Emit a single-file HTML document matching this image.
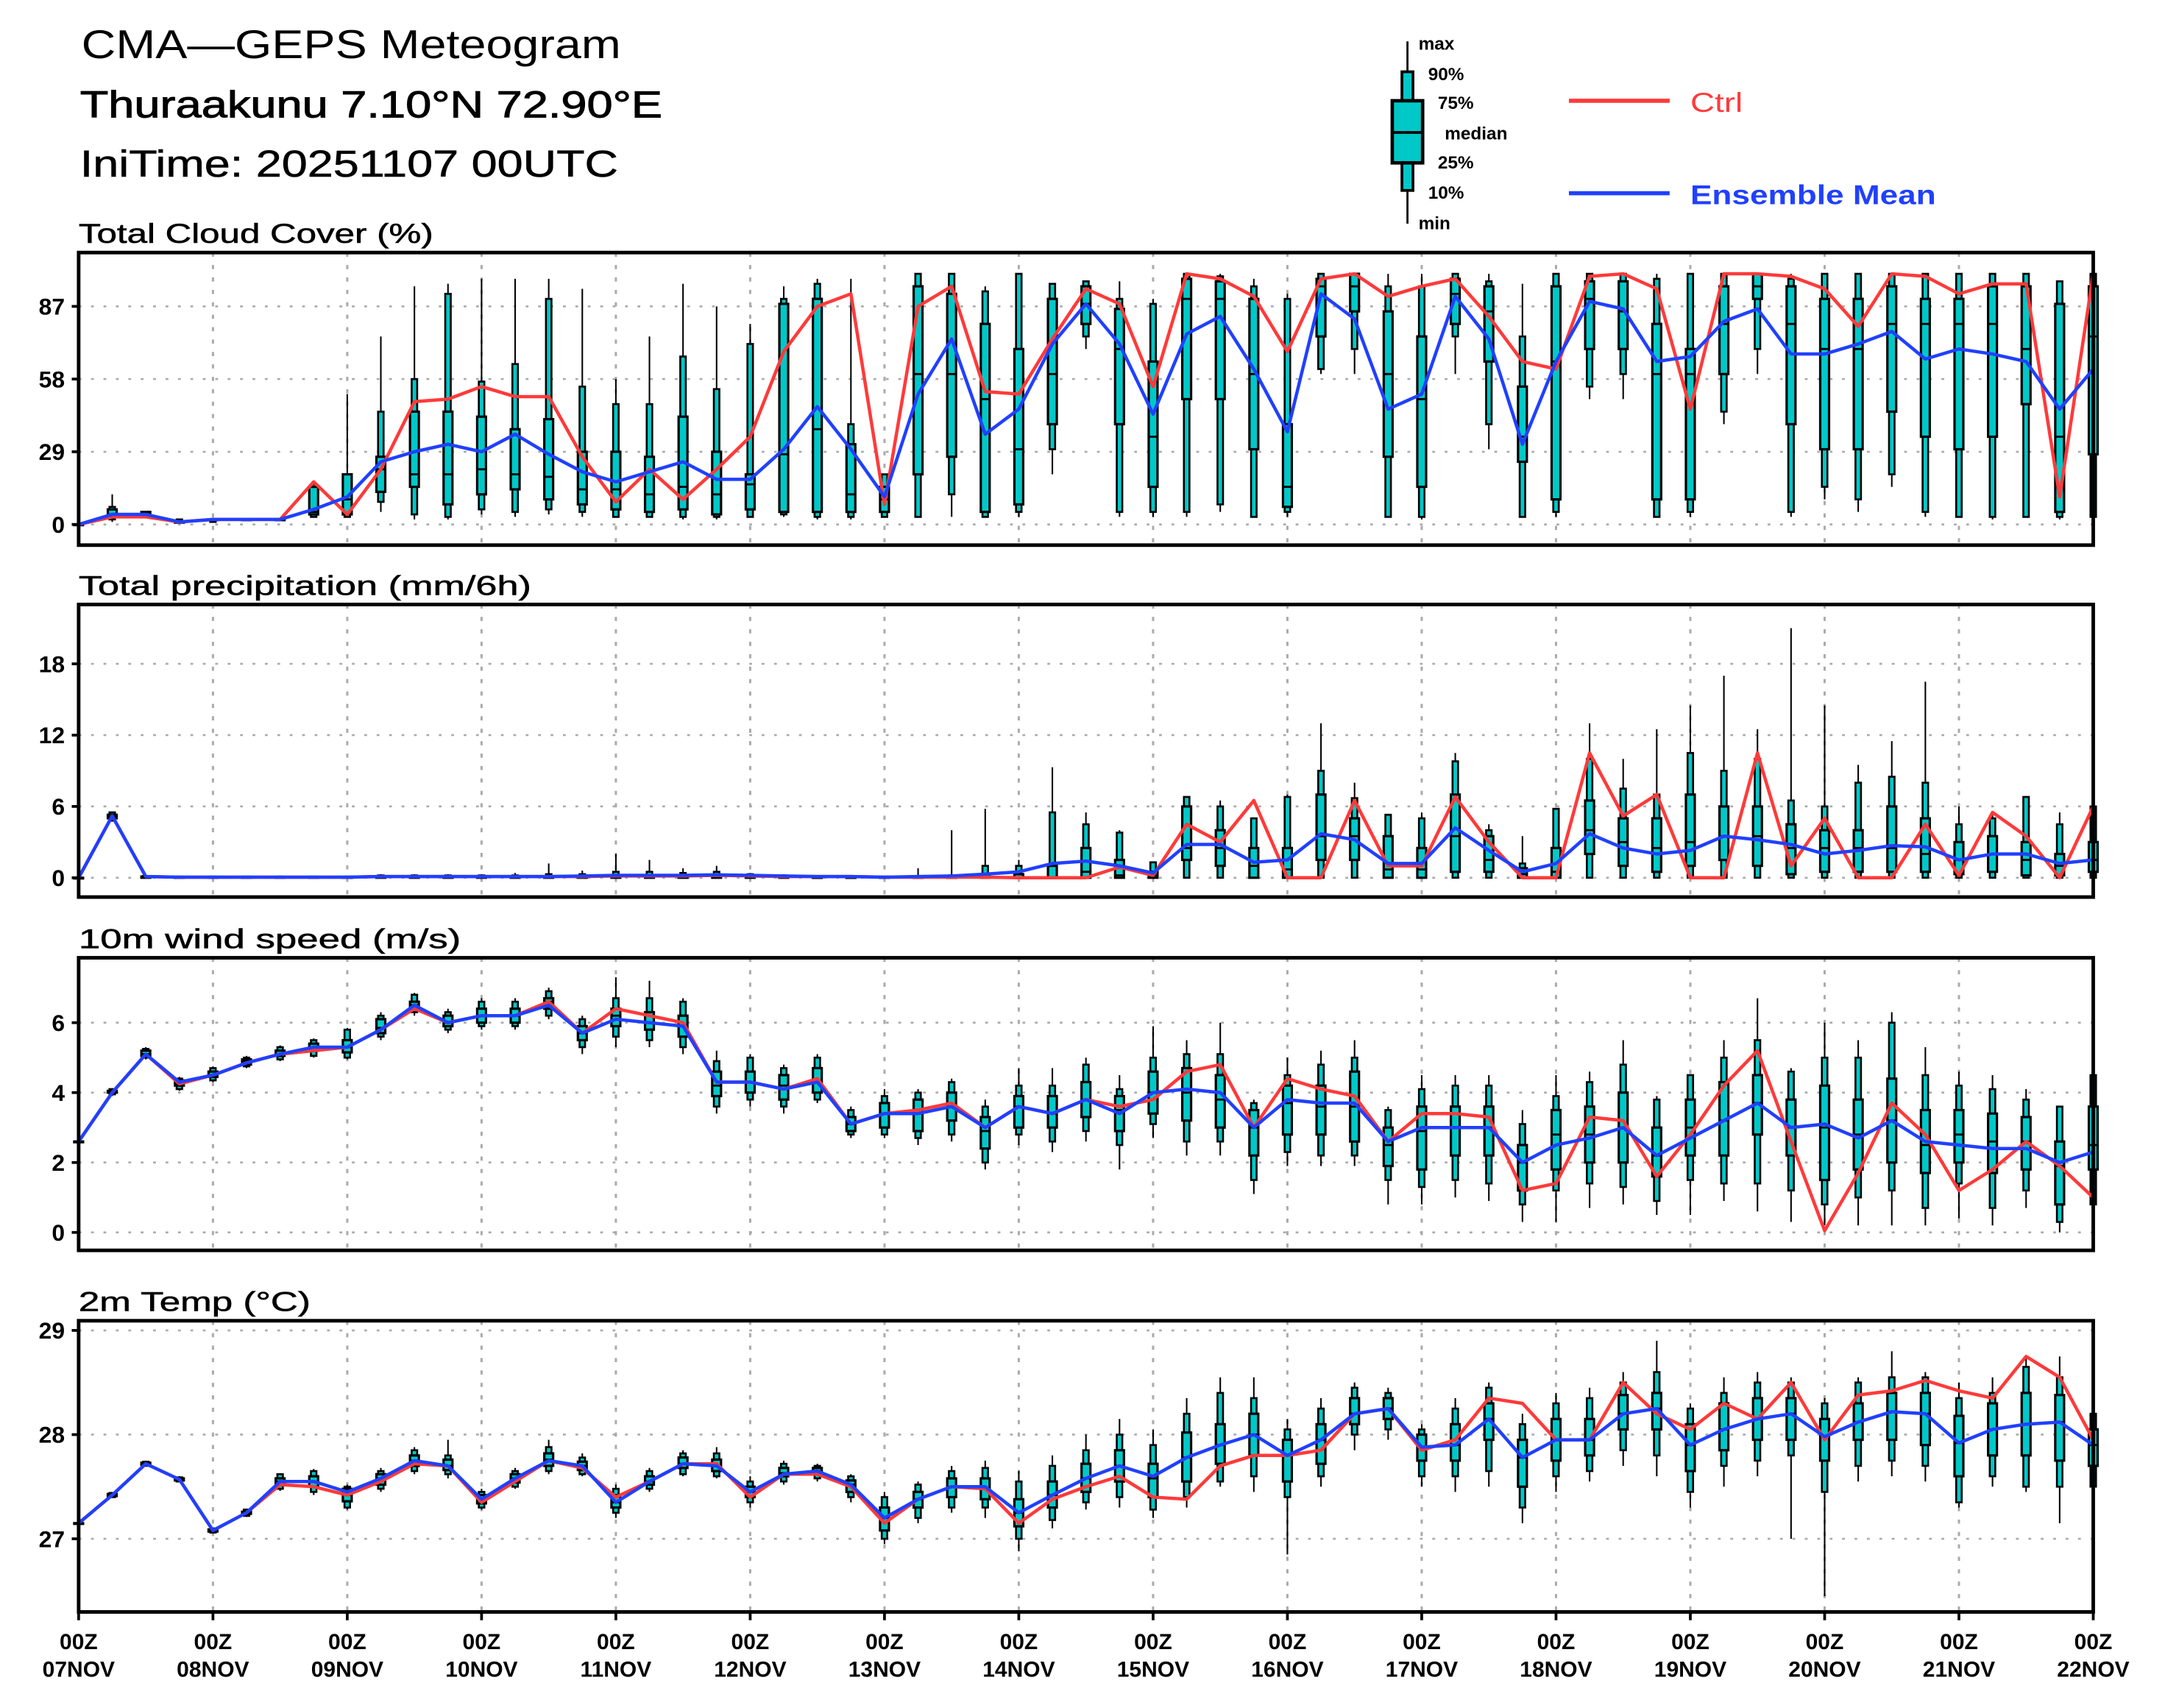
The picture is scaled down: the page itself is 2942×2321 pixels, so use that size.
<!DOCTYPE html>
<html><head><meta charset="utf-8">
<style>
html,body{margin:0;padding:0;background:#fff;}
svg{display:block;}
text{font-family:"Liberation Sans",sans-serif;}
</style></head>
<body>
<svg id="chart" xmlns="http://www.w3.org/2000/svg" width="2942" height="2321" viewBox="0 0 1569 1237.6" preserveAspectRatio="none">
<rect x="0" y="0" width="1569" height="1238" fill="#fff"/>
<g>
<text x="59" y="42" font-size="29" fill="#000" textLength="391" lengthAdjust="spacingAndGlyphs">CMA—GEPS Meteogram</text>
<text x="58" y="85" font-size="27" fill="#000" stroke="#000" stroke-width="0.5" textLength="422" lengthAdjust="spacingAndGlyphs">Thuraakunu 7.10°N 72.90°E</text>
<text x="58" y="128" font-size="27" fill="#000" stroke="#000" stroke-width="0.3" textLength="390" lengthAdjust="spacingAndGlyphs">IniTime: 20251107 00UTC</text>
</g>
<g>
<line x1="1020" y1="30" x2="1020" y2="162" stroke="#000" stroke-width="1.5"/>
<rect x="1016" y="52" width="8" height="86" fill="#00c8c8" stroke="#000" stroke-width="2"/>
<rect x="1009" y="73" width="22" height="45" fill="#00c8c8" stroke="#000" stroke-width="2.5"/>
<line x1="1009" y1="96" x2="1031" y2="96" stroke="#000" stroke-width="2"/>
<g font-size="13" font-weight="bold" fill="#000">
<text x="1028" y="36">max</text><text x="1035" y="58">90%</text><text x="1042" y="79">75%</text>
<text x="1047" y="101">median</text><text x="1042" y="122">25%</text><text x="1035" y="144">10%</text><text x="1028" y="166">min</text>
</g>
<line x1="1137" y1="73" x2="1210" y2="73" stroke="#ff3a3a" stroke-width="3"/>
<text x="1225" y="81" font-size="20" fill="#ff3a3a" textLength="38" lengthAdjust="spacingAndGlyphs">Ctrl</text>
<line x1="1137" y1="140" x2="1210" y2="140" stroke="#2040ff" stroke-width="3"/>
<text x="1225" y="148" font-size="20" font-weight="bold" fill="#2040ff" textLength="178" lengthAdjust="spacingAndGlyphs">Ensemble Mean</text>
</g>
</svg>
<script>
const categories=["07NOV","08NOV","09NOV","10NOV","11NOV","12NOV","13NOV","14NOV","15NOV","16NOV","17NOV","18NOV","19NOV","20NOV","21NOV","22NOV"];
const cloudTicks=[0,29,58,87];
const precipTicks=[0,6,12,18];
const windTicks=[0,2,4,6];
const tempTicks=[27,28,29];
const cloudCtrl=[0,3,3,1,2,2,2,17,4,22,49,50,55,51,51,27,9,22,10,22,35,69,87,92,8,87,95,53,52,74,94,88,55,100,98,91,69,98,100,91,95,98,83,65,62,99,100,94,46,100,100,99,94,79,100,99,92,96,96,11,100];
const cloudMean=[0,4,4,1,2,2,2,6,11,25,29,32,29,36,28,21,17,21,25,18,18,30,47,30,11,52,74,36,46,72,88,72,44,76,83,62,37,92,82,46,52,91,74,32,65,89,86,65,67,81,86,68,68,72,77,66,70,68,65,46,62];
const cloudBoxes=[[0,0,0,0,0,0,0],[2,3,4,6,7,1,12],[3,3,4,5,5,3,5],[1,1,1,1,2,1,2],[1,2,2,2,2,1,2],[2,2,2,2,2,2,2],[2,2,2,2,2,2,2],[3,4,5,15,16,3,16],[3,4,10,20,20,3,52],[9,13,22,27,45,5,75],[4,15,20,45,58,2,95],[3,8,20,45,92,2,96],[6,12,22,43,57,4,98],[5,14,20,38,64,3,98],[6,10,19,42,90,4,98],[5,8,14,29,55,3,94],[3,6,14,29,48,3,58],[3,5,12,27,48,3,75],[3,6,15,43,67,2,96],[3,4,12,29,54,2,87],[3,6,16,20,72,3,80],[4,5,28,88,90,3,95],[3,5,38,90,96,2,98],[3,5,12,32,40,2,98],[3,5,10,15,20,3,20],[3,20,60,95,100,3,100],[12,27,60,92,100,3,100],[3,5,50,80,93,3,95],[5,8,30,70,100,3,100],[30,40,60,90,96,20,96],[75,80,88,95,97,70,97],[5,40,70,86,90,3,97],[5,15,35,65,88,3,90],[5,50,90,98,100,3,100],[8,50,90,97,99,5,100],[3,30,60,90,95,3,98],[5,7,15,40,90,3,92],[62,75,95,98,100,60,100],[70,85,95,100,100,60,100],[3,27,60,85,95,3,100],[3,15,50,75,95,2,100],[75,80,92,98,100,60,100],[40,65,85,95,97,30,100],[3,25,35,55,75,3,96],[5,10,65,95,100,3,100],[55,70,90,97,100,50,100],[60,70,85,97,100,50,100],[3,10,60,80,98,3,100],[5,10,60,70,100,3,100],[45,60,80,95,100,40,100],[70,90,95,100,100,60,100],[5,40,80,95,98,3,100],[15,30,70,90,100,10,100],[10,30,70,90,100,5,100],[20,45,80,95,100,15,100],[5,35,80,90,100,3,100],[3,30,80,90,100,3,100],[3,35,80,95,100,2,100],[3,48,70,95,100,3,100],[3,5,35,88,97,2,97],[3,28,75,95,100,2,100]];
const precipCtrl=[0,5.2,0.1,0.05,0.05,0.05,0.05,0.05,0.05,0.1,0.1,0.1,0.1,0.1,0.1,0.1,0.15,0.15,0.15,0.2,0.15,0.1,0.1,0.1,0.05,0.05,0.05,0.05,0,0,0,0.9,0.2,4.5,3.0,6.5,0,0,6.5,1.0,1.0,6.8,3.0,0,0,10.5,5.2,7.0,0,0,10.5,1.0,5.0,0,0,4.5,0.2,5.5,3.5,0,6.0];
const precipMean=[0,5.2,0.1,0.05,0.05,0.05,0.05,0.05,0.05,0.1,0.1,0.1,0.1,0.1,0.1,0.15,0.2,0.2,0.2,0.25,0.2,0.15,0.1,0.1,0.05,0.1,0.15,0.3,0.5,1.2,1.4,1.0,0.4,2.8,2.8,1.3,1.5,3.7,3.2,1.2,1.2,4.2,2.3,0.5,1.2,3.7,2.5,2.0,2.3,3.5,3.2,2.8,2.0,2.3,2.7,2.6,1.5,2.0,2.0,1.2,1.5];
const precipBoxes=[[0,0,0,0,0,0,0],[4.8,5,5.1,5.3,5.5,4.8,5.5],[0,0,0.05,0.1,0.15,0,0.2],[0,0,0,0.05,0.1,0,0.1],[0,0,0,0.05,0.1,0,0.1],[0,0,0,0.05,0.1,0,0.1],[0,0,0,0.05,0.1,0,0.1],[0,0,0,0.05,0.1,0,0.15],[0,0,0,0.05,0.1,0,0.15],[0,0,0.05,0.1,0.2,0,0.3],[0,0,0.05,0.1,0.2,0,0.3],[0,0,0.05,0.1,0.2,0,0.3],[0,0,0.05,0.1,0.2,0,0.3],[0,0,0.05,0.1,0.2,0,0.4],[0,0,0.05,0.1,0.3,0,1.2],[0,0,0.05,0.15,0.3,0,0.6],[0,0,0.05,0.2,0.5,0,2.0],[0,0,0.05,0.2,0.5,0,1.5],[0,0,0.05,0.2,0.4,0,0.8],[0,0,0.05,0.2,0.5,0,1.0],[0,0,0.05,0.15,0.3,0,0.4],[0,0,0.05,0.1,0.2,0,0.3],[0,0,0,0.05,0.1,0,0.2],[0,0,0,0.05,0.1,0,0.2],[0,0,0,0.05,0.1,0,0.1],[0,0,0,0.05,0.1,0,0.8],[0,0,0,0.05,0.2,0,4.0],[0,0,0,0.3,1.0,0,5.8],[0,0,0,0.3,1.0,0,1.5],[0,0,0,1,5.5,0,9.3],[0,0,0.5,2.5,4.5,0,5.5],[0,0,0.2,1.5,3.8,0,4],[0,0,0.2,0.5,1.3,0,1.3],[0,1.5,2.5,6,6.8,0,6.8],[0,1,2.5,4,6,0,6.5],[0,0,1,2.5,5,0,5],[0,0,0.7,2.5,6.8,0,7],[0,1.5,3.5,7,9,0,13],[0,1.5,3.5,5,6.7,0,8],[0,0,0.7,3.5,5.3,0,5.3],[0,0,0.7,2.5,5,0,5.5],[0,0.5,3.5,7,9.8,0,10.5],[0,0.5,1.5,3.5,4,0,4.5],[0,0,0.3,0.8,1.2,0,3.5],[0,0,0.5,2.5,5.8,0,5.8],[0,2,4,6.5,10,0,13],[0,1,3,5,7.5,0,10],[0,0.5,2.5,5,7,0,12.5],[0,1,3,7,10.5,0,14.5],[0,1.5,3.5,6,9,0,17],[0,1,3.5,6,10,0,12.5],[0,0.3,2.5,4.5,6.5,0,21],[0,0.5,2.5,4,6,0,14.5],[0,0.5,2.5,4,8,0,9.5],[0,0.5,2.5,6,8.5,0,11.5],[0,0.5,2,5,8,0,16.5],[0,0.3,1.5,3,4.5,0,6],[0,0.5,2,3.5,5,0,5.5],[0,0.2,1.5,3,6.8,0,6.8],[0,0.2,1,2,4.5,0,5.5],[0,0.5,1.5,3,6,0,6]];
const windCtrl=[2.6,4.0,5.1,4.25,4.5,4.85,5.1,5.2,5.3,5.8,6.4,6.0,6.2,6.2,6.6,5.7,6.4,6.2,6.0,4.3,4.3,4.1,4.4,3.1,3.4,3.5,3.7,3.0,3.6,3.4,3.8,3.6,3.8,4.6,4.8,3.0,4.4,4.1,3.9,2.6,3.4,3.4,3.3,1.2,1.4,3.3,3.2,1.6,2.8,4.2,5.2,2.6,0.05,1.7,3.7,2.8,1.2,1.8,2.6,1.9,1.0];
const windMean=[2.6,4.0,5.1,4.3,4.5,4.85,5.1,5.3,5.3,5.8,6.5,6.0,6.2,6.2,6.5,5.7,6.1,6.0,5.9,4.3,4.3,4.1,4.3,3.1,3.4,3.4,3.6,3.0,3.6,3.4,3.8,3.4,4.0,4.1,4.0,3.0,3.8,3.7,3.7,2.6,3.0,3.0,3.0,2.0,2.5,2.7,3.0,2.2,2.7,3.2,3.7,3.0,3.1,2.7,3.2,2.6,2.5,2.4,2.4,2.0,2.3];
const windBoxes=[[2.6,2.6,2.6,2.6,2.6,2.6,2.6],[3.95,4,4,4.05,4.1,3.9,4.1],[5.0,5.05,5.1,5.2,5.25,4.95,5.3],[4.1,4.2,4.25,4.35,4.4,4.05,4.45],[4.35,4.45,4.5,4.6,4.7,4.3,4.75],[4.75,4.8,4.9,4.95,5.0,4.7,5.05],[4.95,5.05,5.1,5.2,5.3,4.9,5.35],[5.05,5.2,5.3,5.4,5.5,5.0,5.55],[5.0,5.15,5.3,5.5,5.8,4.95,5.85],[5.6,5.7,5.85,6.1,6.2,5.5,6.3],[6.3,6.4,6.5,6.6,6.8,6.2,6.85],[5.8,5.9,6.0,6.2,6.3,5.7,6.4],[5.9,6.0,6.2,6.4,6.6,5.8,6.7],[5.9,6.0,6.2,6.4,6.6,5.8,6.7],[6.2,6.4,6.6,6.7,6.9,6.1,7.0],[5.3,5.5,5.7,5.9,6.1,5.1,6.2],[5.6,5.9,6.2,6.4,6.7,5.3,7.3],[5.5,5.8,6.0,6.3,6.7,5.3,7.2],[5.3,5.6,5.9,6.2,6.6,5.1,6.7],[3.6,3.9,4.2,4.6,4.9,3.4,5.2],[3.8,4.0,4.3,4.6,5.0,3.6,5.1],[3.6,3.8,4.2,4.5,4.7,3.4,4.8],[3.8,4.0,4.3,4.7,5.0,3.7,5.1],[2.8,2.9,3.1,3.3,3.5,2.7,3.6],[2.8,3.0,3.4,3.7,3.9,2.7,4.1],[2.7,2.9,3.4,3.8,4.0,2.5,4.1],[2.8,3.2,3.6,4.0,4.3,2.6,4.4],[2.0,2.4,2.9,3.3,3.6,1.8,3.8],[2.8,3.0,3.6,3.9,4.2,2.5,4.7],[2.6,3.0,3.4,3.9,4.2,2.3,4.7],[2.9,3.3,3.8,4.3,4.8,2.6,5.0],[2.5,2.9,3.5,3.9,4.1,1.8,4.5],[3.1,3.4,4.0,4.6,5.0,2.7,5.9],[2.6,3.2,4.0,4.7,5.1,2.2,5.5],[2.6,3.0,3.8,4.5,5.1,2.2,6.0],[1.5,2.2,3.0,3.5,3.7,1.1,3.8],[2.3,2.8,3.7,4.2,4.5,1.9,5.0],[2.2,2.8,3.6,4.2,4.8,1.9,5.2],[2.2,2.6,3.6,4.6,5.0,1.9,5.5],[1.5,1.9,2.5,3.0,3.5,0.8,3.6],[1.3,1.8,2.9,3.6,4.1,0.8,4.5],[1.5,2.2,3.0,3.6,4.2,1.0,4.5],[1.4,2.2,3.0,3.6,4.2,0.9,4.5],[0.8,1.2,2.0,2.5,3.1,0.3,3.5],[1.2,1.8,2.8,3.5,3.9,0.3,4.5],[1.4,2.0,2.8,3.6,4.3,0.7,4.6],[1.3,2.0,3.0,4.0,4.8,0.8,5.5],[0.9,1.6,2.2,3.0,3.8,0.5,3.9],[1.5,2.2,3.0,3.8,4.5,0.5,4.5],[1.4,2.2,3.2,4.3,5.0,0.9,5.5],[1.4,2.8,3.7,4.5,5.5,0.6,6.7],[1.2,2.2,3.0,3.8,4.6,0.3,4.7],[0.8,1.5,3.0,4.2,5.0,0.2,6.0],[1.0,1.8,2.8,3.8,5.0,0.2,5.5],[1.2,2.0,3.2,4.4,6.0,0.2,6.3],[0.7,1.7,2.5,3.5,4.5,0.2,5.3],[1.4,2.0,2.8,3.5,4.2,0.4,4.6],[0.7,1.7,2.6,3.4,4.1,0.2,4.5],[1.2,1.8,2.6,3.3,3.8,0.7,4.1],[0.3,0.8,1.9,2.6,3.6,0.0,3.6],[0.8,1.8,2.5,3.6,4.5,0.4,4.5]];
const tempCtrl=[27.15,27.42,27.72,27.57,27.08,27.25,27.52,27.5,27.42,27.55,27.72,27.7,27.35,27.55,27.75,27.68,27.4,27.55,27.72,27.72,27.4,27.62,27.62,27.5,27.15,27.38,27.5,27.48,27.15,27.38,27.5,27.6,27.4,27.38,27.7,27.8,27.8,27.85,28.2,28.25,27.85,27.95,28.35,28.3,27.95,27.95,28.5,28.2,28.05,28.3,28.15,28.5,27.95,28.38,28.42,28.52,28.42,28.35,28.75,28.55,27.95];
const tempMean=[27.15,27.42,27.72,27.57,27.08,27.25,27.55,27.55,27.45,27.58,27.75,27.7,27.38,27.58,27.75,27.7,27.35,27.55,27.72,27.7,27.45,27.62,27.65,27.52,27.2,27.38,27.5,27.5,27.25,27.42,27.58,27.7,27.6,27.78,27.9,28.0,27.8,27.95,28.2,28.25,27.88,27.9,28.15,27.78,27.95,27.95,28.2,28.25,27.9,28.05,28.15,28.2,27.98,28.12,28.22,28.2,27.92,28.05,28.1,28.12,27.9];
const tempBoxes=[[27.15,27.15,27.15,27.15,27.15,27.15,27.15],[27.4,27.41,27.42,27.43,27.44,27.4,27.45],[27.7,27.71,27.72,27.73,27.74,27.7,27.75],[27.55,27.56,27.57,27.58,27.59,27.55,27.6],[27.06,27.07,27.08,27.09,27.1,27.05,27.1],[27.22,27.24,27.25,27.26,27.28,27.21,27.29],[27.48,27.52,27.55,27.58,27.62,27.46,27.63],[27.45,27.5,27.55,27.6,27.65,27.42,27.67],[27.3,27.36,27.42,27.48,27.5,27.28,27.52],[27.48,27.52,27.58,27.62,27.65,27.45,27.68],[27.65,27.7,27.75,27.8,27.85,27.62,27.88],[27.62,27.66,27.7,27.76,27.8,27.58,27.95],[27.3,27.34,27.38,27.42,27.45,27.28,27.48],[27.5,27.54,27.58,27.62,27.65,27.48,27.68],[27.65,27.7,27.76,27.82,27.88,27.62,27.95],[27.62,27.66,27.7,27.74,27.78,27.6,27.82],[27.25,27.3,27.35,27.42,27.48,27.2,27.52],[27.48,27.52,27.55,27.6,27.65,27.45,27.68],[27.62,27.68,27.72,27.78,27.82,27.6,27.85],[27.6,27.65,27.7,27.76,27.82,27.58,27.88],[27.35,27.4,27.45,27.5,27.55,27.3,27.6],[27.55,27.6,27.63,27.68,27.72,27.52,27.75],[27.58,27.62,27.65,27.68,27.7,27.55,27.72],[27.4,27.45,27.52,27.56,27.6,27.35,27.62],[27.0,27.08,27.2,27.3,27.4,26.95,27.45],[27.2,27.3,27.38,27.45,27.52,27.15,27.55],[27.3,27.4,27.5,27.58,27.65,27.25,27.7],[27.3,27.38,27.48,27.58,27.68,27.2,27.75],[27.0,27.12,27.25,27.38,27.55,26.88,27.65],[27.18,27.3,27.42,27.55,27.7,27.1,27.8],[27.35,27.45,27.58,27.72,27.85,27.28,28.0],[27.4,27.55,27.7,27.85,28.0,27.3,28.15],[27.28,27.4,27.58,27.72,27.9,27.2,28.05],[27.4,27.55,27.78,28.02,28.2,27.3,28.35],[27.55,27.72,27.9,28.1,28.4,27.5,28.55],[27.6,27.8,28.0,28.2,28.35,27.45,28.55],[27.4,27.55,27.8,27.95,28.05,26.85,28.15],[27.6,27.72,27.95,28.1,28.25,27.5,28.35],[28.0,28.1,28.2,28.35,28.45,27.85,28.5],[28.05,28.15,28.25,28.35,28.4,27.95,28.45],[27.6,27.75,27.88,28.0,28.05,27.5,28.1],[27.6,27.75,27.9,28.1,28.25,27.45,28.35],[27.65,27.95,28.15,28.3,28.45,27.5,28.5],[27.3,27.5,27.78,27.95,28.1,27.15,28.2],[27.6,27.75,27.95,28.15,28.3,27.45,28.4],[27.65,27.8,27.95,28.15,28.35,27.55,28.45],[27.85,28.05,28.2,28.38,28.5,27.7,28.6],[27.8,28.05,28.25,28.4,28.6,27.6,28.9],[27.45,27.65,27.9,28.1,28.25,27.3,28.3],[27.7,27.85,28.05,28.3,28.4,27.5,28.55],[27.75,27.95,28.15,28.35,28.5,27.6,28.6],[27.8,27.95,28.2,28.35,28.5,27.0,28.55],[27.45,27.75,27.98,28.15,28.3,26.45,28.35],[27.7,27.95,28.12,28.3,28.5,27.55,28.55],[27.75,27.95,28.22,28.4,28.55,27.6,28.8],[27.7,27.9,28.2,28.4,28.55,27.55,28.6],[27.35,27.6,27.92,28.18,28.35,27.3,28.5],[27.6,27.8,28.05,28.3,28.4,27.5,28.55],[27.5,27.8,28.1,28.4,28.65,27.45,28.75],[27.5,27.75,28.12,28.38,28.55,27.15,28.75],[27.5,27.7,27.9,28.05,28.2,27.45,28.25]];

const NS="http://www.w3.org/2000/svg";
const svg=document.getElementById('chart');
const X0=57,X1=1517,NSTEP=60;
function xScale(i){return X0+(X1-X0)*i/NSTEP;}
function mk(tag,attrs,parent){const e=document.createElementNS(NS,tag);for(const k in attrs)e.setAttribute(k,attrs[k]);(parent||svg).appendChild(e);return e;}

const panels=[
 {key:"cloud",title:"Total Cloud Cover (%)",tl:257,top:183,bot:395,y0:380,v0:0,unit:158/87,ticks:cloudTicks,ctrl:cloudCtrl,mean:cloudMean,boxes:cloudBoxes},
 {key:"precip",title:"Total precipitation (mm/6h)",tl:328,top:438,bot:650,y0:636,v0:0,unit:8.61,ticks:precipTicks,ctrl:precipCtrl,mean:precipMean,boxes:precipBoxes},
 {key:"wind",title:"10m wind speed (m/s)",tl:277,top:694,bot:906,y0:893,v0:0,unit:25.33,ticks:windTicks,ctrl:windCtrl,mean:windMean,boxes:windBoxes},
 {key:"temp",title:"2m Temp (°C)",tl:168,top:957,bot:1168,y0:1115,v0:27,unit:75.5,ticks:tempTicks,ctrl:tempCtrl,mean:tempMean,boxes:tempBoxes}
];

panels.forEach(p=>{
 const yScale=v=>p.y0-(v-p.v0)*p.unit;
 const g=mk('g',{});
 
 
 const t=mk('text',{x:57,y:p.top-7,'font-size':20,fill:'#000',stroke:'#000','stroke-width':0.3,textLength:p.tl,lengthAdjust:'spacingAndGlyphs'},g);
 t.textContent=p.title;
 
 
 for(let d=1;d<categories.length-1;d++){
  const gl=mk('line',{x1:xScale(d*4),x2:xScale(d*4),y1:p.top,y2:p.bot,stroke:'#aaa','stroke-width':1.6,'stroke-dasharray':'3,6'},g);
  
  
 }
 p.ticks.forEach(tv=>{
  const y=yScale(tv);
  const hl=mk('line',{x1:X0,x2:X1,y1:y,y2:y,stroke:'#aaa','stroke-width':1.4,'stroke-dasharray':'2,7'},g);
  
  
  mk('line',{x1:X0-5,x2:X0,y1:y,y2:y,stroke:'#000','stroke-width':2},g);
  const tl=mk('text',{x:X0-10,y:y+6,'font-size':17,'font-weight':'bold','text-anchor':'end',fill:'#000'},g);
  tl.textContent=String(tv);
  
  
 });
 p.boxes.forEach((b,i)=>{
  const x=xScale(i);
  const bg=mk('g',{},g);
  
  
  mk('line',{x1:x,x2:x,y1:yScale(b[5]),y2:yScale(b[6]),stroke:'#000','stroke-width':1.1},bg);
  const y90=yScale(b[4]),y10=yScale(b[0]);
  mk('rect',{x:x-2,y:y90,width:4,height:Math.max(0.5,y10-y90),fill:'#00c8c8',stroke:'#000','stroke-width':1.4},bg);
  const y75=yScale(b[3]),y25=yScale(b[1]);
  mk('rect',{x:x-3.2,y:y75,width:6.4,height:Math.max(0.5,y25-y75),fill:'#00c8c8',stroke:'#000','stroke-width':1.7},bg);
  mk('line',{x1:x-3.2,x2:x+3.2,y1:yScale(b[2]),y2:yScale(b[2]),stroke:'#000','stroke-width':1.5},bg);
 });
 const ctrlPts=p.ctrl.map((v,i)=>xScale(i).toFixed(2)+','+yScale(v).toFixed(2)).join(' ');
 const cl=mk('polyline',{points:ctrlPts,fill:'none',stroke:'#ff3a3a','stroke-width':2.4,'stroke-linejoin':'round'},g);
 
 
 const meanPts=p.mean.map((v,i)=>xScale(i).toFixed(2)+','+yScale(v).toFixed(2)).join(' ');
 const ml=mk('polyline',{points:meanPts,fill:'none',stroke:'#2040ff','stroke-width':2.4,'stroke-linejoin':'round'},g);
 
 
 const fr=mk('rect',{x:X0,y:p.top,width:X1-X0,height:p.bot-p.top,fill:'none',stroke:'#000','stroke-width':2.6},g);
 
 
});

const xa=mk('g',{});


categories.forEach((c,d)=>{
 const x=xScale(d*4);
 mk('line',{x1:x,x2:x,y1:1168,y2:1174,stroke:'#000','stroke-width':2},xa);
 const t1=mk('text',{x:x,y:1195,'font-size':16,'font-weight':'bold','text-anchor':'middle',fill:'#000'},xa);
 t1.textContent='00Z';
 
 
 const t2=mk('text',{x:x,y:1215,'font-size':16,'font-weight':'bold','text-anchor':'middle',fill:'#000'},xa);
 t2.textContent=c;
 
 
});
</script>
</body></html>
